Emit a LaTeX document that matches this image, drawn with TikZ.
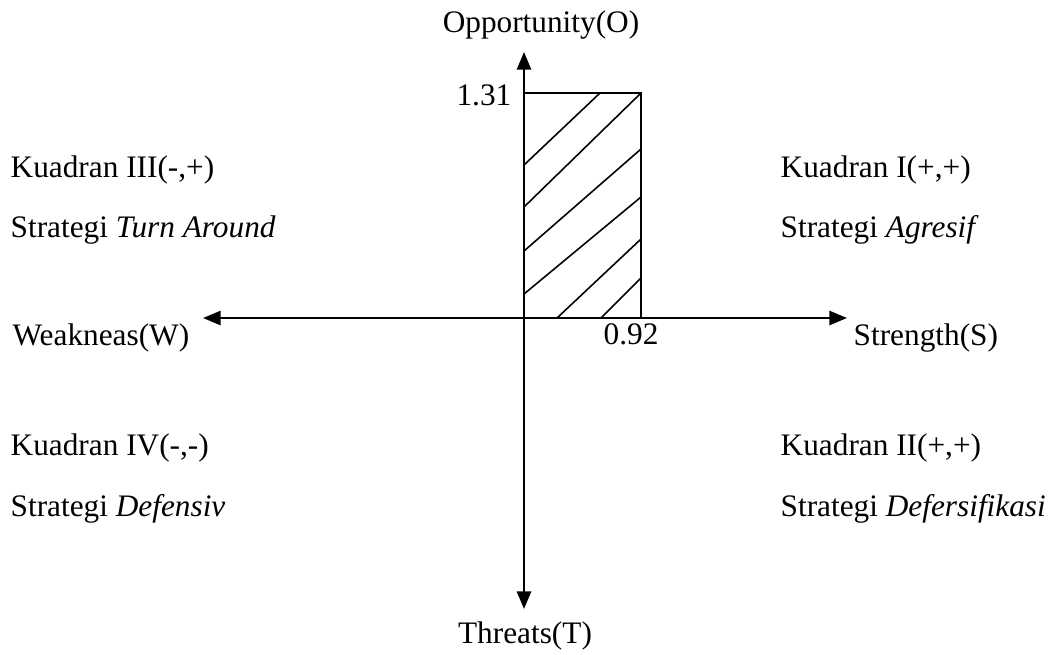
\documentclass[tikz,border=0pt]{standalone}
\usepackage{fontspec}
\setmainfont{Liberation Serif}
\usetikzlibrary{arrows.meta}

\begin{document}
\begin{tikzpicture}[
    x={(0.01cm,0)}, y={(0,-0.01cm)},
    axis/.style={{Triangle[length=5pt,width=4pt]}-{Triangle[length=5pt,width=4pt]},line width=0.7pt},
    hatch/.style={line width=0.45pt},
    lbl/.style={inner sep=0pt,font=\fontsize{8.9}{10}\selectfont},
  ]
    \useasboundingbox (0,0) rectangle (1058,654);

    % Axis end points
    \coordinate (wend) at (203,318);
    \coordinate (send) at (847,318);
    \coordinate (oend) at (524,52);
    \coordinate (tend) at (524,609);

    % Axes
    \draw[axis] (wend) -- (send);
    \draw[axis] (tend) -- (oend);

    % Hatched area
    \draw[hatch] (524,93) -- (641,93) -- (641,318);
    \draw[hatch] (524,165) -- (600,93);
    \draw[hatch] (524,207) -- (641,93);
    \draw[hatch] (524,251) -- (641,149);
    \draw[hatch] (524,294) -- (641,197);
    \draw[hatch] (557,318) -- (641,239);
    \draw[hatch] (601,318) -- (641,278);

    % Axis labels
    \node[lbl,anchor=base] (opp) at (541,32) {Opportunity(O)};
    \node[lbl,anchor=base] (thr) at (525,643) {Threats(T)};
    \node[lbl,anchor=base west] (weak) at (12,345) {Weakneas(W)};
    \node[lbl,anchor=base west] (str) at (853,345) {Strength(S)};
    \node[lbl,anchor=base east] (vopp) at (512,105) {1.31};
    \node[lbl,anchor=base west] (vstr) at (603,344) {0.92};

    % Quadrants
    \node[lbl,anchor=base west] (q3) at (10,177) {Kuadran III(-,+)};
    \node[lbl,anchor=base west] (s3) at (10,237) {Strategi \textit{Turn Around}};
    \node[lbl,anchor=base west] (q1) at (780,177) {Kuadran I(+,+)};
    \node[lbl,anchor=base west] (s1) at (780,237) {Strategi \textit{Agresif}};
    \node[lbl,anchor=base west] (q4) at (10,455) {Kuadran IV(-,-)};
    \node[lbl,anchor=base west] (s4) at (10,516) {Strategi \textit{Defensiv}};
    \node[lbl,anchor=base west] (q2) at (780,455) {Kuadran II(+,+)};
    \node[lbl,anchor=base west] (s2) at (780,516) {Strategi \textit{Defersifikasi}};

\end{tikzpicture}
\end{document}
